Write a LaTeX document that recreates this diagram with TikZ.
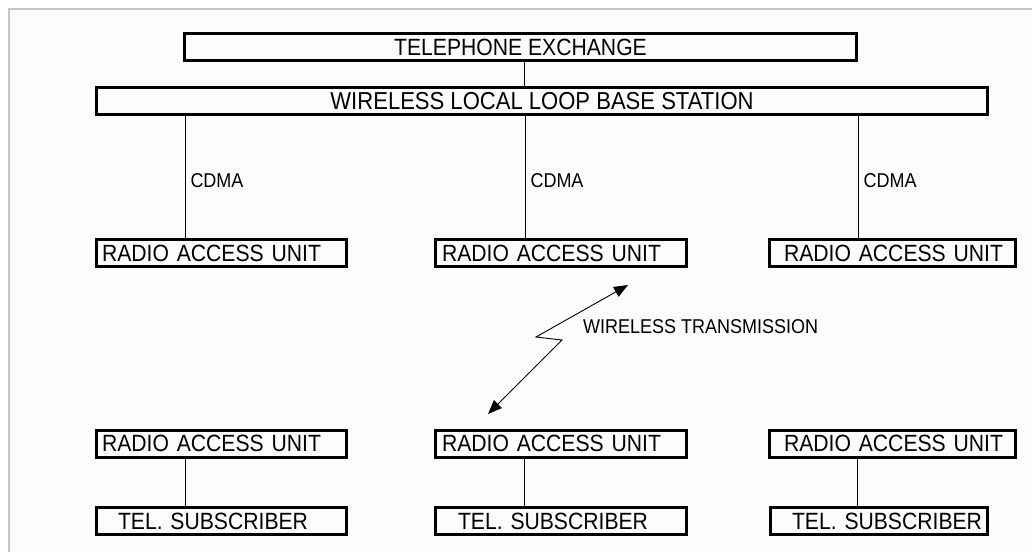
\documentclass[tikz,border=0pt]{standalone}
\usepackage{fontspec}
\setmainfont{Liberation Sans}[FakeStretch=0.9]
\usetikzlibrary{arrows.meta}

\begin{document}
\begin{tikzpicture}[x=1pt, y=-1pt, >={Triangle[length=14pt,width=11pt]},
  box/.style={draw, line width=3pt, minimum height=27pt, inner ysep=0pt,
    font=\fontsize{23.5}{26}\selectfont},
  unitl/.style 2 args={box, anchor=west, text width=#1, inner xsep=#2, align=left},
  unitr/.style 2 args={box, anchor=east, text width=#1, inner xsep=#2, align=right},
  link/.style={line width=1pt},
  tag/.style={font=\fontsize{20}{22}\selectfont, inner sep=0pt}]
  \useasboundingbox (0,0) rectangle (1032,552);
  \fill[black!1] (9,9) rectangle (1032,552);
  \draw[black!22, line width=1.3pt] (9,552) -- (9,9) -- (1032,9);

  \node[box, minimum width=672pt] (exch) at (520.5,47) {TELEPHONE EXCHANGE};
  \node[box, minimum width=891pt, font=\fontsize{24.5}{27}\selectfont]
    (base) at (542,101) {WIRELESS LOCAL LOOP BASE STATION};

  \node[unitl={239pt}{5.5pt}] (rau1) at (95,253) {RADIO ACCESS UNIT};
  \node[unitl={238pt}{6.5pt}] (rau2) at (434,253) {RADIO ACCESS UNIT};
  \node[unitr={221pt}{12.5pt}] (rau3) at (1017,253) {RADIO ACCESS UNIT};
  \node[unitl={239pt}{5.5pt}] (rau4) at (95,443.5) {RADIO ACCESS UNIT};
  \node[unitl={238pt}{6.5pt}] (rau5) at (434,443.5) {RADIO ACCESS UNIT};
  \node[unitr={221pt}{12.5pt}] (rau6) at (1017,443.5) {RADIO ACCESS UNIT};
  \node[unitl={207pt}{21.5pt}] (tel1) at (95,521) {TEL. SUBSCRIBER};
  \node[unitl={206pt}{22.5pt}] (tel2) at (434,521) {TEL. SUBSCRIBER};
  \node[unitr={206pt}{5.5pt}] (tel3) at (989,521) {TEL. SUBSCRIBER};

  \draw[link] (exch.south -| 524,0) -- (base.north -| 524,0);
  \foreach \u/\x in {rau1/185, rau2/525, rau3/858}
    \draw[link] (base.south -| \x,0) -- (\u.north -| \x,0)
      node[tag, pos=.53, anchor=west, xshift=5pt] (cdma\u) {CDMA};
  \foreach \u/\t/\x in {rau4/tel1/185, rau5/tel2/524, rau6/tel3/857}
    \draw[link] (\u.south -| \x,0) -- (\t.north -| \x,0);

  \coordinate (hi) at (628,285);
  \coordinate (lo) at (488,414);
  \draw[<->, line width=0.9pt] (hi) -- (536,337) -- (562,340) -- (lo);
  \node[tag, anchor=west] (wt) at (583,327) {WIRELESS TRANSMISSION};
\end{tikzpicture}
\end{document}
